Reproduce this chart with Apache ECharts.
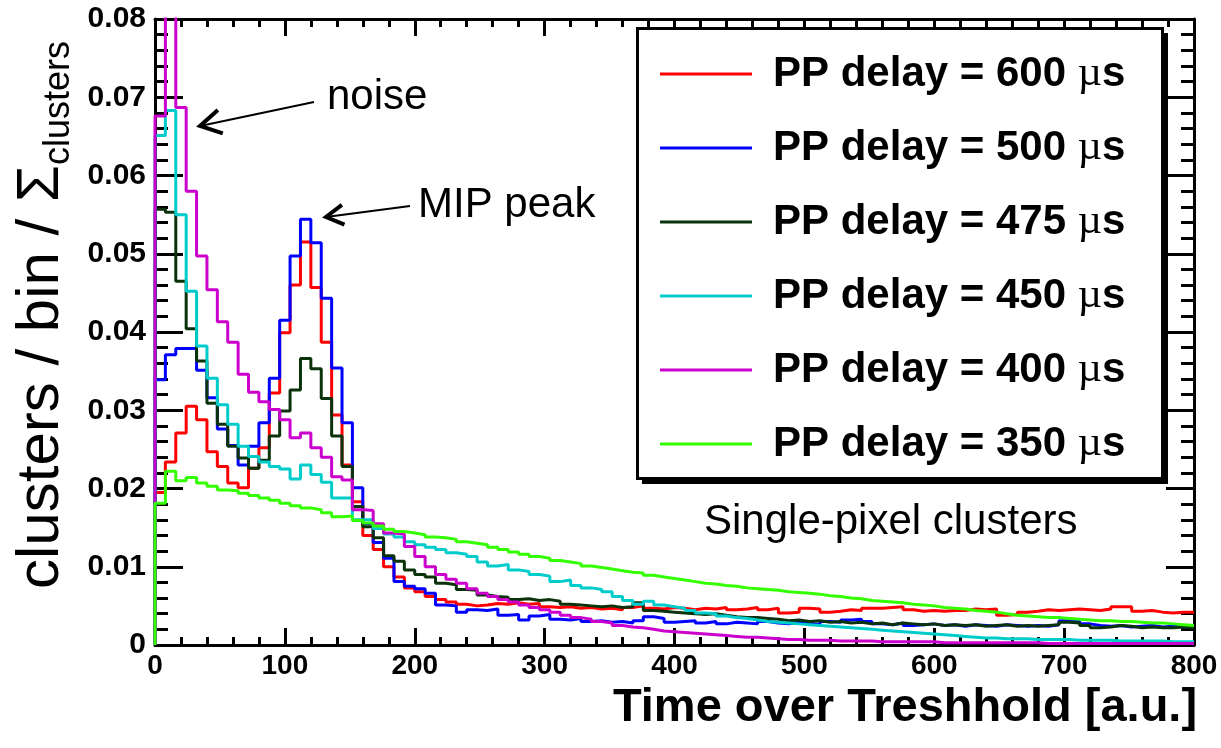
<!DOCTYPE html>
<html>
<head>
<meta charset="utf-8">
<script src="https://cdn.jsdelivr.net/npm/echarts@6/dist/echarts.min.js"></script>
<style>
html,body{margin:0;padding:0;background:#fff;}
#chart{width:1221px;height:748px;}
</style>
</head>
<body>
<div id="chart"></div>
<script>
// ---- data ----
const binWidth = 8;            // Time over Threshold bin width [a.u.]
const xTicks = [0, 100, 200, 300, 400, 500, 600, 700, 800];
const yTicks = [0, 0.01, 0.02, 0.03, 0.04, 0.05, 0.06, 0.07, 0.08];
const delays = ['600', '500', '475', '450', '400', '350'];
const seriesNames = delays.map(d => 'PP delay = ' + d + ' µs');

const pp600 = [
  0.0195, 0.0234, 0.0271, 0.0305, 0.0288, 0.0247, 0.0228, 0.0207, 0.0201, 0.0226,
  0.0252, 0.0322, 0.0399, 0.0460, 0.0515, 0.0457, 0.0387, 0.0294, 0.0230, 0.0183,
  0.0140, 0.0122, 0.0100, 0.0087, 0.0073, 0.0068, 0.0062, 0.0058, 0.0055, 0.0052,
  0.0050, 0.0051, 0.0053, 0.0052, 0.0054, 0.0052, 0.0053, 0.0049, 0.0048, 0.0049,
  0.0047, 0.0048, 0.0046, 0.0047, 0.0045, 0.0048, 0.0050, 0.0047, 0.0046, 0.0048,
  0.0047, 0.0045, 0.0047, 0.0046, 0.0048, 0.0045, 0.0046, 0.0048, 0.0045, 0.0047,
  0.0041, 0.0042, 0.0047, 0.0046, 0.0042, 0.0043, 0.0045, 0.0044, 0.0047, 0.0047,
  0.0048, 0.0049, 0.0045, 0.0043, 0.0044, 0.0043, 0.0044, 0.0044, 0.0046, 0.0045,
  0.0046, 0.0038, 0.0039, 0.0042, 0.0043, 0.0045, 0.0044, 0.0045, 0.0046, 0.0045,
  0.0044, 0.0046, 0.0049, 0.0049, 0.0043, 0.0044, 0.0042, 0.0041, 0.0042, 0.0042
];
const pp500 = [
  0.0339, 0.0371, 0.0379, 0.0379, 0.0351, 0.0316, 0.0276, 0.0255, 0.0230, 0.0254,
  0.0284, 0.0341, 0.0415, 0.0497, 0.0544, 0.0514, 0.0443, 0.0354, 0.0284, 0.0201,
  0.0155, 0.0131, 0.0111, 0.0081, 0.0075, 0.0072, 0.0066, 0.0051, 0.0050, 0.0042,
  0.0045, 0.0044, 0.0046, 0.0038, 0.0039, 0.0032, 0.0037, 0.0039, 0.0033, 0.0032,
  0.0034, 0.0030, 0.0031, 0.0029, 0.0030, 0.0028, 0.0031, 0.0036, 0.0034, 0.0029,
  0.0030, 0.0031, 0.0028, 0.0030, 0.0027, 0.0029, 0.0028, 0.0027, 0.0030, 0.0028,
  0.0027, 0.0029, 0.0028, 0.0026, 0.0030, 0.0029, 0.0032, 0.0033, 0.0030, 0.0027,
  0.0026, 0.0028, 0.0025, 0.0026, 0.0027, 0.0025, 0.0026, 0.0024, 0.0026, 0.0025,
  0.0024, 0.0026, 0.0025, 0.0024, 0.0025, 0.0024, 0.0026, 0.0031, 0.0030, 0.0027,
  0.0025, 0.0024, 0.0025, 0.0023, 0.0024, 0.0025, 0.0023, 0.0024, 0.0023, 0.0024
];
const pp475 = [
  0.0557, 0.0553, 0.0465, 0.0404, 0.0363, 0.0309, 0.0282, 0.0254, 0.0239, 0.0226,
  0.0236, 0.0267, 0.0299, 0.0326, 0.0366, 0.0353, 0.0315, 0.0267, 0.0228, 0.0177,
  0.0151, 0.0137, 0.0114, 0.0107, 0.0096, 0.0090, 0.0087, 0.0079, 0.0077, 0.0071,
  0.0070, 0.0064, 0.0062, 0.0061, 0.0058, 0.0059, 0.0057, 0.0058, 0.0056, 0.0052,
  0.0051, 0.0050, 0.0049, 0.0050, 0.0048, 0.0049, 0.0054, 0.0044, 0.0043, 0.0042,
  0.0041, 0.0040, 0.0039, 0.0040, 0.0038, 0.0036, 0.0035, 0.0035, 0.0034, 0.0033,
  0.0031, 0.0032, 0.0030, 0.0031, 0.0029, 0.0030, 0.0028, 0.0029, 0.0027, 0.0028,
  0.0026, 0.0028, 0.0027, 0.0026, 0.0027, 0.0025, 0.0026, 0.0025, 0.0026, 0.0024,
  0.0025, 0.0026, 0.0024, 0.0025, 0.0024, 0.0025, 0.0026, 0.0029, 0.0028, 0.0025,
  0.0022, 0.0023, 0.0025, 0.0024, 0.0022, 0.0023, 0.0022, 0.0022, 0.0023, 0.0022
];
const pp450 = [
  0.0651, 0.0683, 0.0550, 0.0452, 0.0382, 0.0341, 0.0307, 0.0282, 0.0254, 0.0241,
  0.0234, 0.0228, 0.0225, 0.0212, 0.0230, 0.0218, 0.0208, 0.0188, 0.0188, 0.0160,
  0.0160, 0.0149, 0.0142, 0.0138, 0.0132, 0.0128, 0.0125, 0.0122, 0.0118, 0.0116,
  0.0113, 0.0106, 0.0101, 0.0103, 0.0096, 0.0094, 0.0090, 0.0088, 0.0081, 0.0083,
  0.0076, 0.0073, 0.0071, 0.0068, 0.0062, 0.0057, 0.0052, 0.0056, 0.0051, 0.0049,
  0.0047, 0.0044, 0.0041, 0.0040, 0.0037, 0.0035, 0.0034, 0.0032, 0.0030, 0.0029,
  0.0028, 0.0027, 0.0026, 0.0025, 0.0024, 0.0023, 0.0022, 0.0021, 0.0020, 0.0019,
  0.0018, 0.0017, 0.0016, 0.0015, 0.0014, 0.0013, 0.0012, 0.0011, 0.0010, 0.0009,
  0.0009, 0.0008, 0.0008, 0.0008, 0.0007, 0.0007, 0.0007, 0.0007, 0.0006, 0.0006,
  0.0006, 0.0006, 0.0005, 0.0005, 0.0005, 0.0005, 0.0005, 0.0004, 0.0004, 0.0004
];
const pp400 = [
  0.0676, 0.0860, 0.0687, 0.0580, 0.0497, 0.0454, 0.0413, 0.0387, 0.0346, 0.0323,
  0.0311, 0.0301, 0.0288, 0.0265, 0.0271, 0.0252, 0.0240, 0.0215, 0.0211, 0.0173,
  0.0172, 0.0155, 0.0143, 0.0142, 0.0126, 0.0113, 0.0100, 0.0090, 0.0084, 0.0079,
  0.0072, 0.0066, 0.0062, 0.0058, 0.0055, 0.0051, 0.0048, 0.0045, 0.0042, 0.0038,
  0.0035, 0.0033, 0.0030, 0.0028, 0.0025, 0.0023, 0.0022, 0.0020, 0.0018, 0.0017,
  0.0016, 0.0015, 0.0014, 0.0013, 0.0012, 0.0011, 0.0010, 0.0010, 0.0009, 0.0008,
  0.0007, 0.0007, 0.0006, 0.0006, 0.0006, 0.0005, 0.0005, 0.0005, 0.0005, 0.0004,
  0.0004, 0.0004, 0.0004, 0.0004, 0.0004, 0.0003, 0.0003, 0.0003, 0.0003, 0.0003,
  0.0003, 0.0003, 0.0003, 0.0003, 0.0003, 0.0002, 0.0002, 0.0002, 0.0002, 0.0002,
  0.0002, 0.0002, 0.0002, 0.0002, 0.0002, 0.0002, 0.0002, 0.0002, 0.0002, 0.0002
];
const pp350 = [
  0.0181, 0.0222, 0.0210, 0.0214, 0.0207, 0.0203, 0.0198, 0.0197, 0.0194, 0.0191,
  0.0188, 0.0185, 0.0181, 0.0178, 0.0175, 0.0173, 0.0169, 0.0164, 0.0165, 0.0159,
  0.0156, 0.0152, 0.0148, 0.0145, 0.0143, 0.0141, 0.0138, 0.0137, 0.0135, 0.0132,
  0.0130, 0.0128, 0.0125, 0.0122, 0.0119, 0.0116, 0.0113, 0.0111, 0.0108, 0.0106,
  0.0104, 0.0101, 0.0099, 0.0097, 0.0095, 0.0093, 0.0092, 0.0089, 0.0087, 0.0085,
  0.0083, 0.0081, 0.0079, 0.0078, 0.0076, 0.0075, 0.0073, 0.0072, 0.0071, 0.0070,
  0.0068, 0.0067, 0.0066, 0.0065, 0.0063, 0.0062, 0.0060, 0.0059, 0.0057, 0.0056,
  0.0055, 0.0054, 0.0052, 0.0051, 0.0050, 0.0048, 0.0047, 0.0046, 0.0044, 0.0043,
  0.0042, 0.0040, 0.0038, 0.0037, 0.0036, 0.0035, 0.0035, 0.0034, 0.0033, 0.0032,
  0.0031, 0.0031, 0.0030, 0.0030, 0.0029, 0.0028, 0.0028, 0.0027, 0.0026, 0.0025
];
const seriesValues = [pp600, pp500, pp475, pp450, pp400, pp350];
const colors = ['#ff0000', '#0000ff', '#0b330b', '#00cccc', '#cc00cc', '#33ff00'];

// histogram outline: start at baseline, one step per bin, closing edge at the last bin
function histPoints(vals) {
  const pts = [[0, 0]];
  vals.forEach((v, i) => pts.push([i * binWidth, v]));
  pts.push([vals.length * binWidth, vals[vals.length - 1]]);
  return pts;
}

const FONT = '"Liberation Sans", Arial, Helvetica, sans-serif';
const chart = echarts.init(document.getElementById('chart'));

const tickStyle = {color: '#000', width: 3};
function xAxisCfg(pos, labels) {
  return {
    type: 'value', position: pos, min: xTicks[0], max: xTicks[xTicks.length - 1],
    interval: xTicks[1] - xTicks[0],
    axisLine: {show: true, onZero: false, lineStyle: tickStyle},
    axisTick: {show: true, inside: true, length: 17, lineStyle: tickStyle},
    minorTick: {show: true, splitNumber: 5, length: 8, lineStyle: tickStyle},
    splitLine: {show: false}, minorSplitLine: {show: false},
    axisLabel: {show: labels, fontSize: 28, fontWeight: 'bold', color: '#000', fontFamily: FONT, margin: 7}
  };
}
function yAxisCfg(pos, labels) {
  return {
    type: 'value', position: pos, min: yTicks[0], max: yTicks[yTicks.length - 1],
    interval: yTicks[1] - yTicks[0],
    axisLine: {show: true, onZero: false, lineStyle: tickStyle},
    axisTick: {show: true, inside: true, length: 28, lineStyle: tickStyle},
    minorTick: {show: true, splitNumber: 5, length: 13, lineStyle: tickStyle},
    splitLine: {show: false}, minorSplitLine: {show: false},
    axisLabel: {
      show: labels, fontSize: 30, fontWeight: 'bold', color: '#000', fontFamily: FONT, margin: 9,
      formatter: v => (v === 0 ? '0' : v.toFixed(2))
    }
  };
}

const xBottom = xAxisCfg('bottom', true);
xBottom.name = 'Time over Treshhold [a.u.]';
xBottom.nameLocation = 'middle';
xBottom.nameGap = 27;
xBottom.nameTextStyle = {
  fontSize: 47, fontWeight: 'bold', color: '#000', fontFamily: FONT, lineHeight: 47,
  padding: [0, 0, 0, 461]
};
const yLeft = yAxisCfg('left', true);
yLeft.name = '{a|clusters / bin / Σ}{b|clusters}';
yLeft.nameLocation = 'middle';
yLeft.nameGap = 51;
yLeft.nameTextStyle = {
  color: '#000', fontFamily: FONT, padding: [0, 0, 0, 34],
  rich: {
    a: {fontSize: 60, fontFamily: FONT, color: '#000', verticalAlign: 'middle'},
    b: {fontSize: 36, fontFamily: FONT, color: '#000', verticalAlign: 'bottom', lineHeight: 70}
  }
};

const series = seriesValues.map((vals, i) => ({
  name: seriesNames[i],
  type: 'line',
  step: 'end',
  symbol: 'none',
  xAxisIndex: 0, yAxisIndex: 0,
  data: histPoints(vals),
  lineStyle: {color: colors[i], width: 3},
  itemStyle: {color: colors[i]},
  clip: true,
  animation: false
}));

function arrow(tail, tip, arm) {
  const dx = tail[0] - tip[0], dy = tail[1] - tip[1];
  const L = Math.hypot(dx, dy), ux = dx / L, uy = dy / L;
  const c = Math.cos(Math.PI / 6), s = Math.sin(Math.PI / 6);
  const a1 = [tip[0] + arm * (ux * c - uy * s), tip[1] + arm * (ux * s + uy * c)];
  const a2 = [tip[0] + arm * (ux * c + uy * s), tip[1] + arm * (-ux * s + uy * c)];
  return [
    {type: 'line', z: 5, shape: {x1: tail[0], y1: tail[1], x2: tip[0], y2: tip[1]}, style: {stroke: '#000', lineWidth: 2}},
    {type: 'polyline', z: 5, shape: {points: [a1, tip, a2]}, style: {stroke: '#000', lineWidth: 4, fill: null}}
  ];
}

const option = {
  backgroundColor: '#fff',
  animation: false,
  grid: {left: 155, right: 27, top: 19, bottom: 103, containLabel: false, outerBoundsMode: 'none'},
  xAxis: [xBottom, xAxisCfg('top', false)],
  yAxis: [yLeft, yAxisCfg('right', false)],
  legend: {
    orient: 'vertical', left: 660, top: 53, padding: 0,
    itemWidth: 92, itemHeight: 3, itemGap: 32,
    icon: 'rect',
    data: seriesNames,
    selectedMode: false,
    z: 6,
    formatter: name => '{p|' + name.split(' µs')[0] + ' }{u|µ}{t|s}',
    textStyle: {
      rich: {
        p: {fontSize: 42, fontWeight: 'bold', fontFamily: FONT, color: '#000', lineHeight: 44, padding: [0, 0, 0, 16]},
        u: {fontSize: 42, fontWeight: 'normal', fontFamily: '"Liberation Serif", serif', color: '#000', lineHeight: 44},
        t: {fontSize: 42, fontWeight: 'bold', fontFamily: FONT, color: '#000', lineHeight: 44}
      }
    }
  },
  graphic: [
    {type: 'rect', z: 3, shape: {x: 642, y: 33, width: 526, height: 451}, style: {fill: '#000'}},
    {type: 'rect', z: 3, shape: {x: 637.5, y: 28.5, width: 525, height: 450}, style: {fill: '#fff', stroke: '#000', lineWidth: 3}},
    {type: 'text', z: 5, style: {x: 327, y: 97, text: 'noise', fontSize: 42, fontFamily: FONT, fill: '#000', verticalAlign: 'middle'}},
    {type: 'text', z: 5, style: {x: 418, y: 205, text: 'MIP peak', fontSize: 42, fontFamily: FONT, fill: '#000', verticalAlign: 'middle'}},
    {type: 'text', z: 5, style: {x: 704, y: 522, text: 'Single-pixel clusters', fontSize: 42, fontFamily: FONT, fill: '#000', verticalAlign: 'middle'}}
  ].concat(arrow([314, 102], [200, 126], 24), arrow([410, 206], [326, 217], 20)),
  series: series
};
chart.setOption(option);
</script>
</body>
</html>
